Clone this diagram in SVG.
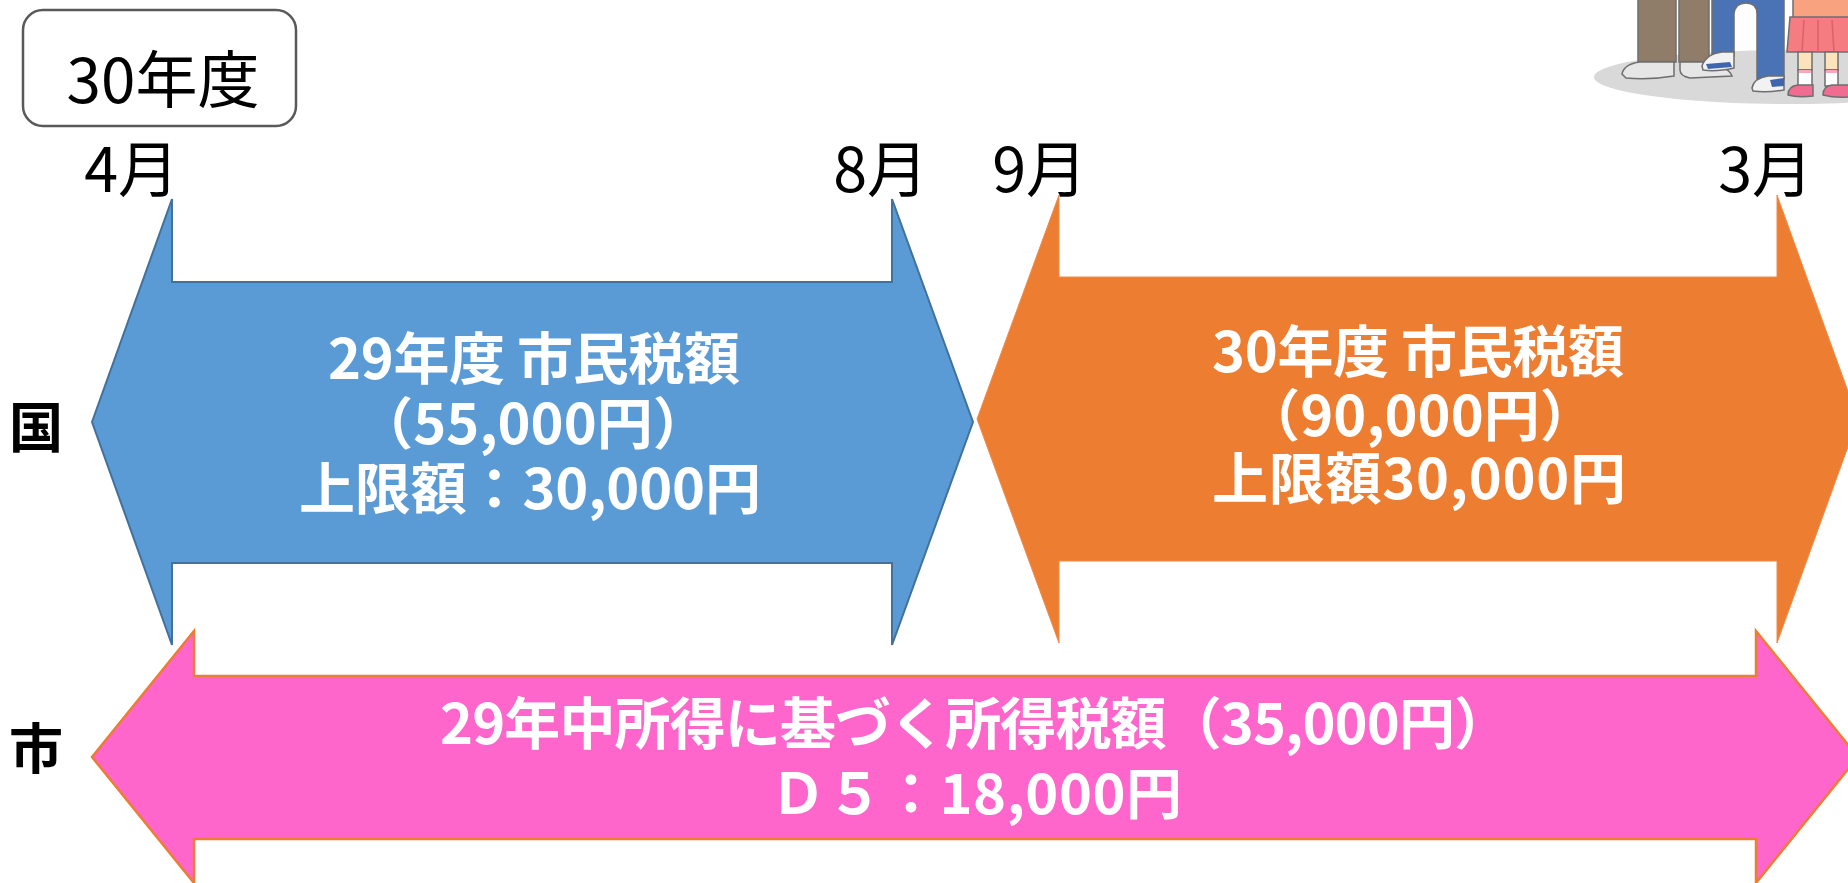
<svg xmlns="http://www.w3.org/2000/svg" width="1848" height="883" viewBox="0 0 1848 883">
  <style>
    text { font-family: "Noto Sans CJK JP", "Noto Sans", sans-serif; }
    .lbl { font-size: 61px; fill: #000; }
    .side { font-size: 54px; font-weight: bold; fill: #000; }
    .inner { font-size: 56px; font-weight: bold; fill: #fff; text-anchor: middle; }
    .blue { fill: #5B9BD5; stroke: #41719C; stroke-width: 2; stroke-linejoin: miter; }
    .orange { fill: #ED7D31; stroke: #EE8A4A; stroke-width: 1; }
    .pink { fill: #FF66CC; stroke: #ED7D31; stroke-width: 2.5; }
    .ol { stroke: #6e6e6e; stroke-width: 1.5; }
  </style>

  <rect width="1848" height="883" fill="#ffffff"/>

  <!-- family illustration, cropped at the top edge -->
  <g id="illustration">
    <ellipse cx="1790" cy="77" rx="196" ry="27" fill="#d9d9d9"/>
    <!-- trousers (father) -->
    <rect class="ol" x="1638" y="-2" width="38" height="64" fill="#8f7d69"/>
    <rect class="ol" x="1679" y="-2" width="30" height="64" fill="#8f7d69"/>
    <path class="ol" d="M1622 74 Q1624 64 1640 62 L1674 62 L1674 76 Q1650 80 1626 78 Z" fill="#e6e6e6"/>
    <path class="ol" d="M1680 62 L1706 62 Q1728 66 1732 76 L1690 78 Q1680 76 1680 70 Z" fill="#e6e6e6"/>
    <!-- jeans (boy) -->
    <path class="ol" d="M1712 -2 L1784 -2 L1784 79 L1757 79 L1757 14 Q1757 3 1746 3 Q1735 3 1734 14 L1734 56 L1712 56 Z" fill="#4a73b6"/>
    <path class="ol" d="M1702 66 Q1706 54 1722 52 L1734 52 L1734 68 Q1716 72 1703 70 Z" fill="#f2f2f2"/>
    <path d="M1706 64 L1730 62 L1732 67 L1708 69 Z" fill="#3f66ad"/>
    <path class="ol" d="M1752 88 Q1754 78 1768 76 L1784 76 L1784 90 Q1766 93 1753 91 Z" fill="#f2f2f2"/>
    <path d="M1770 80 L1784 78 L1784 86 L1772 87 Z" fill="#3f66ad"/>
    <!-- girl -->
    <rect x="1793" y="-2" width="56" height="20" fill="#f9a27f" class="ol"/>
    <path class="ol" d="M1790 17 L1849 17 L1849 52 L1787 52 Z" fill="#f57c80"/>
    <path d="M1804 20 L1802 52 M1818 20 L1818 52 M1832 20 L1834 52" stroke="#d9636a" stroke-width="1.5"/>
    <rect class="ol" x="1798" y="52" width="14" height="18" fill="#fde3bb"/>
    <rect class="ol" x="1825" y="52" width="13" height="18" fill="#fde3bb"/>
    <rect class="ol" x="1798" y="70" width="14" height="16" fill="#ffffff"/>
    <rect class="ol" x="1825" y="70" width="13" height="16" fill="#ffffff"/>
    <rect x="1799" y="70" width="12" height="3" fill="#f7a7b5"/>
    <rect x="1826" y="70" width="11" height="3" fill="#f7a7b5"/>
    <path class="ol" d="M1788 95 Q1788 86 1798 85 L1813 85 L1813 96 Q1798 98 1788 95 Z" fill="#f06c91"/>
    <path class="ol" d="M1823 95 Q1823 86 1832 85 L1849 85 L1849 97 Q1834 98 1823 95 Z" fill="#f06c91"/>
  </g>

  <!-- fiscal year badge -->
  <g id="year-badge">
    <rect x="23" y="10" width="273" height="116" rx="20" ry="20" fill="#ffffff" stroke="#595959" stroke-width="2.5"/>
    <text x="163" y="103" font-size="62" text-anchor="middle" fill="#000">30年度</text>
  </g>

  <!-- month markers -->
  <g id="months">
    <text class="lbl" x="179" y="192" text-anchor="end">4月</text>
    <text class="lbl" x="928" y="192" text-anchor="end">8月</text>
    <text class="lbl" x="1087" y="192" text-anchor="end">9月</text>
    <text class="lbl" x="1813" y="192" text-anchor="end">3月</text>
  </g>

  <!-- row labels -->
  <g id="row-labels">
    <text class="side" x="9" y="448">国</text>
    <text class="side" x="9" y="769">市</text>
  </g>

  <!-- April–August: previous year's municipal tax -->
  <g id="arrow-h29">
    <polygon class="blue" points="92,422 172,199 172,282 892,282 892,199 973,422 892,645 892,563 172,563 172,645"/>
    <text class="inner" x="534" y="379" textLength="412" lengthAdjust="spacing">29年度 市民税額</text>
    <text class="inner" x="533" y="444">（55,000円）</text>
    <text class="inner" x="530" y="509" textLength="462" lengthAdjust="spacing">上限額：30,000円</text>
  </g>

  <!-- September–March: current year's municipal tax -->
  <g id="arrow-h30">
    <polygon class="orange" points="977,419 1059,195 1059,277 1777,277 1777,195 1858,419 1777,643 1777,561 1059,561 1059,643"/>
    <text class="inner" x="1418" y="372" textLength="412" lengthAdjust="spacing">30年度 市民税額</text>
    <text class="inner" x="1420" y="436">（90,000円）</text>
    <text class="inner" x="1419" y="499" textLength="414" lengthAdjust="spacing">上限額30,000円</text>
  </g>

  <!-- full year: national income tax -->
  <g id="arrow-income">
    <polygon class="pink" points="92,757 194,631 194,676 1756,676 1756,631 1858,757 1756,883 1756,839 194,839 194,883"/>
    <text x="440" y="744" font-size="56" font-weight="bold" fill="#fff" textLength="1070" lengthAdjust="spacing">29年中所得に基づく所得税額（35,000円）</text>
    <text class="inner" x="976" y="814" textLength="412" lengthAdjust="spacing">Ｄ５：18,000円</text>
  </g>
</svg>
